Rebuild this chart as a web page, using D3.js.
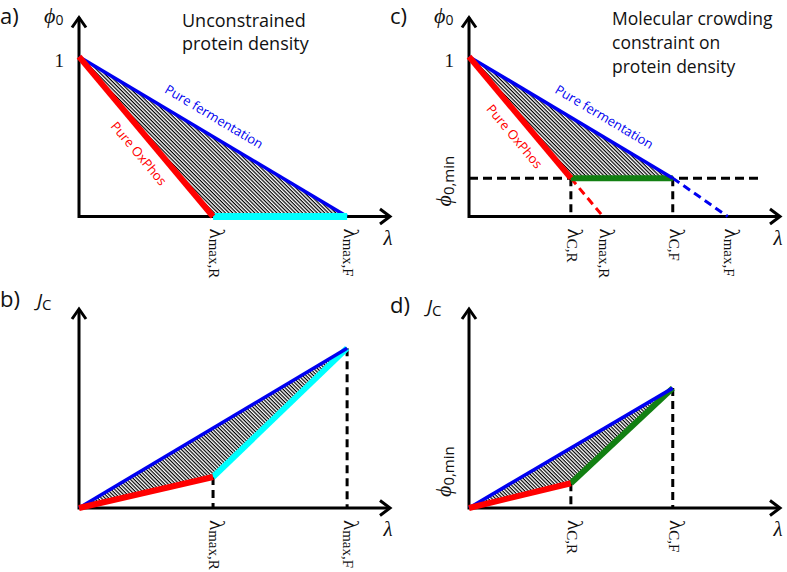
<!DOCTYPE html>
<html>
<head>
<meta charset="utf-8">
<title>Protein density sketch</title>
<script src="https://cdn.jsdelivr.net/npm/d3@7"></script>
<style>
  body { margin: 0; background: #fff; }
  text { font-family: "Open Sans", sans-serif; fill: #111; }
  .serif { font-family: "Liberation Serif", "Times New Roman", serif; }
</style>
</head>
<body>
<script>
// values (arbitrary units)
var lambdaMax = [1.0, 2.0];        // lambda max,R / max,F  (panels a, b)
var lambdaMaxC = [1.0, 1.93];      // ends of the dashed lines in panel c
var lambdaC = [0.76, 1.52];        // lambda C,R / C,F
var phiMin = 0.24;
var phiMinLineEnd = 2.17;
var jMax = [0.194, 1.0];           // J_C at lambda max,R / max,F
var jC = [0.155, 0.75];            // J_C at lambda C,R / C,F
var subsAB = ["max,R", "max,F"];
var subsC = ["C,R", "max,R", "C,F", "max,F"];
var subsD = ["C,R", "C,F"];
var titleA = ["Unconstrained", "protein density"];
var titleC = ["Molecular crowding", "constraint on", "protein density"];

var width = 787, height = 572;
var red = "#ff0000", blue = "#0000f0", cyan = "#00ffff", green = "#128012";

var x = d3.scaleLinear().domain([0, 2.32]).range([0, 311]);
var y = d3.scaleLinear().domain([0, 1.245]).range([0, -199]);
var line = d3.line().x(function (d) { return x(d[0]); }).y(function (d) { return y(d[1]); });

var svg = d3.select("body").append("svg")
  .attr("width", width)
  .attr("height", height);

var pat = svg.append("defs").append("pattern")
  .attr("id", "hatch")
  .attr("patternUnits", "userSpaceOnUse")
  .attr("width", 2.6).attr("height", 2.6)
  .attr("patternTransform", "rotate(45)");
pat.append("rect").attr("width", 2.6).attr("height", 2.6).attr("fill", "#fff");
pat.append("rect").attr("width", 2.6).attr("height", 1.2).attr("fill", "#000");

var panels = {
  a: svg.append("g").attr("transform", "translate(79,216.5)"),
  b: svg.append("g").attr("transform", "translate(79,508)"),
  c: svg.append("g").attr("transform", "translate(469,216.5)"),
  d: svg.append("g").attr("transform", "translate(469,508)")
};

function axes(g) {
  var top = y(y.domain()[1]), right = x(x.domain()[1]);
  g.append("path")
    .attr("d", "M0," + top + "V0H" + right)
    .attr("fill", "none").attr("stroke", "#000").attr("stroke-width", 3);
  g.append("path")
    .attr("d", "M-7," + (top + 10) + "L0," + top + "L7," + (top + 10))
    .attr("fill", "none").attr("stroke", "#000").attr("stroke-width", 3);
  g.append("path")
    .attr("d", "M" + (right - 10) + ",-7.5L" + right + ",0L" + (right - 10) + ",7.5")
    .attr("fill", "none").attr("stroke", "#000").attr("stroke-width", 3);
  g.append("text").attr("class", "serif")
    .attr("x", right - 2).attr("y", 28)
    .attr("text-anchor", "middle")
    .style("font-size", "21px").style("font-style", "italic")
    .text("λ");
}

function seg(g, pts, color, w, dash) {
  g.append("path")
    .attr("d", line(pts))
    .attr("fill", "none")
    .attr("stroke", color)
    .attr("stroke-width", w)
    .attr("stroke-dasharray", dash || null);
}

function hatch(g, pts) {
  g.append("path").attr("d", line(pts) + "Z").attr("fill", "url(#hatch)");
}

// tick labels run downwards, glyph tops facing right
function ticks(g, vals, subs) {
  vals.forEach(function (v, i) {
    var t = g.append("text").attr("class", "serif")
      .attr("transform", "translate(" + (x(v) - 3) + ",12) rotate(90)");
    t.append("tspan").style("font-size", "21px").text("λ");
    t.append("tspan").style("font-size", "15px").attr("dy", 1).text(subs[i]);
  });
}

function vdash(g, v, top) {
  seg(g, [[v, top], [v, 0]], "#000", 3, "8,5");
}

function along(g, p0, p1, t, off, label, color) {
  var a = Math.atan2(y(p1[1]) - y(p0[1]), x(p1[0]) - x(p0[0])) * 180 / Math.PI;
  var px = x(p0[0] + (p1[0] - p0[0]) * t), py = y(p0[1] + (p1[1] - p0[1]) * t);
  g.append("text")
    .attr("transform", "translate(" + px + "," + py + ") rotate(" + a + ")")
    .attr("text-anchor", "middle")
    .attr("dy", off)
    .style("font-size", "13px")
    .style("fill", color)
    .text(label);
}

function phiLabel(g) {
  var t = g.append("text").attr("x", -35).attr("y", -194);
  t.append("tspan").attr("class", "serif").style("font-size", "22px").style("font-style", "italic").text("ϕ");
  t.append("tspan").style("font-size", "14px").attr("dy", 2).text("0");
  g.append("text").attr("class", "serif")
    .attr("x", -15).attr("y", y(1) + 10)
    .attr("text-anchor", "end").style("font-size", "19px").text("1");
}

function jLabel(g, yy) {
  var t = g.append("text").attr("x", -42).attr("y", yy);
  t.append("tspan").style("font-size", "19px").style("font-style", "italic").text("J");
  t.append("tspan").style("font-size", "15px").attr("dy", 3).text("C");
}

function phiMinLabel(g, yy) {
  var t = g.append("text").attr("transform", "translate(-18," + yy + ") rotate(-90)");
  t.append("tspan").attr("class", "serif").style("font-size", "22px").style("font-style", "italic").text("ϕ");
  t.append("tspan").style("font-size", "15px").attr("dy", 3).text("0,min");
}

function panelTag(txt, px, py) {
  svg.append("text").attr("x", px).attr("y", py).style("font-size", "22px").text(txt);
}

// ---- panel a
var g = panels.a;
axes(g);
hatch(g, [[0, 1], [lambdaMax[0], 0], [lambdaMax[1], 0]]);
seg(g, [[0, 1], [lambdaMax[1], 0]], blue, 3.5);
seg(g, [[lambdaMax[0], 0], [lambdaMax[1], 0]], cyan, 7);
seg(g, [[0, 1], [lambdaMax[0], 0]], red, 6);
along(g, [0, 1], [lambdaMax[1], 0], 0.47, -13, "Pure fermentation", blue);
along(g, [0, 1], [lambdaMax[0], 0], 0.54, 21, "Pure OxPhos", red);
ticks(g, lambdaMax, subsAB);
phiLabel(g);

// ---- panel b
g = panels.b;
axes(g);
hatch(g, [[0, 0], [lambdaMax[0], jMax[0]], [lambdaMax[1], jMax[1]]]);
vdash(g, lambdaMax[0], jMax[0]);
vdash(g, lambdaMax[1], jMax[1]);
seg(g, [[lambdaMax[0], jMax[0]], [lambdaMax[1], jMax[1]]], cyan, 6);
seg(g, [[0, 0], [lambdaMax[1], jMax[1]]], blue, 3.5);
seg(g, [[0, 0], [lambdaMax[0], jMax[0]]], red, 6);
ticks(g, lambdaMax, subsAB);
jLabel(g, -201);

// ---- panel c
g = panels.c;
axes(g);
hatch(g, [[0, 1], [lambdaC[0], phiMin], [lambdaC[1], phiMin]]);
seg(g, [[0, phiMin], [phiMinLineEnd, phiMin]], "#000", 3, "9,5");
vdash(g, lambdaC[0], phiMin);
vdash(g, lambdaC[1], phiMin);
seg(g, [[lambdaC[0], phiMin], [lambdaMaxC[0], 0]], red, 3, "8,5");
seg(g, [[lambdaC[1], phiMin], [lambdaMaxC[1], 0]], blue, 3, "8,5");
seg(g, [[lambdaC[0], phiMin], [lambdaC[1], phiMin]], green, 6);
seg(g, [[0, 1], [lambdaC[1], phiMin]], blue, 3.5);
seg(g, [[0, 1], [lambdaC[0], phiMin]], red, 6);
along(g, [0, 1], [lambdaC[1], phiMin], 0.62, -13, "Pure fermentation", blue);
along(g, [0, 1], [lambdaC[0], phiMin], 0.57, 21, "Pure OxPhos", red);
ticks(g, [lambdaC[0], lambdaMaxC[0], lambdaC[1], lambdaMaxC[1]], subsC);
phiLabel(g);
phiMinLabel(g, -10);

// ---- panel d
g = panels.d;
axes(g);
hatch(g, [[0, 0], [lambdaC[0], jC[0]], [lambdaC[1], jC[1]]]);
vdash(g, lambdaC[0], jC[0]);
vdash(g, lambdaC[1], jC[1]);
seg(g, [[lambdaC[0], jC[0]], [lambdaC[1], jC[1]]], green, 6);
seg(g, [[0, 0], [lambdaC[1], jC[1]]], blue, 3.5);
seg(g, [[0, 0], [lambdaC[0], jC[0]]], red, 6);
ticks(g, lambdaC, subsD);
jLabel(g, -195);
phiMinLabel(g, -11);

// ---- tags and titles
panelTag("a)", 0, 24);
panelTag("b)", 0, 307);
panelTag("c)", 390, 24);
panelTag("d)", 390, 313);

svg.append("g").selectAll("text").data(titleA).enter().append("text")
  .attr("x", 182).attr("y", function (d, i) { return 27 + i * 23; })
  .style("font-size", "18px").text(function (d) { return d; });
svg.append("g").selectAll("text").data(titleC).enter().append("text")
  .attr("x", 612).attr("y", function (d, i) { return 25 + i * 24; })
  .style("font-size", "17.5px").text(function (d) { return d; });
</script>
</body>
</html>
